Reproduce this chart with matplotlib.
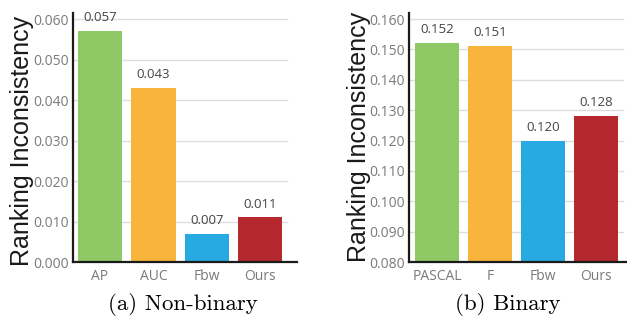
import matplotlib.pyplot as plt
from matplotlib.ticker import FormatStrFormatter

# non-binary and binary results
nb_methods = ["AP", "AUC", "Fbw", "Ours"]
nb_values = [0.057, 0.043, 0.007, 0.011]
nb_ticks = [0.000, 0.010, 0.020, 0.030, 0.040, 0.050, 0.060]

b_methods = ["PASCAL", "F", "Fbw", "Ours"]
b_values = [0.152, 0.151, 0.120, 0.128]
b_ticks = [0.080, 0.090, 0.100, 0.110, 0.120, 0.130, 0.140, 0.150, 0.160]

bar_colors = ["#8fc965", "#f9b53b", "#27aae1", "#b5282e"]

fig = plt.figure(figsize=(6.27, 3.2), dpi=100)

ax1 = fig.add_axes([73 / 627, 58 / 320, 224 / 627, 249 / 320])
ax2 = fig.add_axes([409 / 627, 58 / 320, 218 / 627, 249 / 320])


def draw_panel(ax, methods, values, ticks, xlim, ylim, grid_end):
    x = range(len(methods))
    ax.bar(x, [v - ylim[0] for v in values], bottom=ylim[0], width=0.83,
           color=bar_colors, zorder=2)
    for xi, v in zip(x, values):
        ax.annotate(f"{v:.3f}", (xi, v), xytext=(0, 5), textcoords="offset points",
                    ha="center", va="bottom", fontsize=9.5, color="#444444",
                    family="Open Sans")
    for t in ticks[1:]:
        ax.axhline(t, xmin=0, xmax=grid_end, color="#dddddd", lw=1, zorder=1)
    ax.set_xlim(*xlim)
    ax.set_ylim(*ylim)
    ax.set_yticks(ticks)
    ax.yaxis.set_major_formatter(FormatStrFormatter("%.3f"))
    ax.set_xticks(list(x))
    ax.set_xticklabels(methods)
    ax.tick_params(axis="both", length=0, labelsize=10, labelcolor="#7a7a7a")
    ax.tick_params(axis="y", pad=3)
    ax.tick_params(axis="x", pad=5)
    for lab in ax.get_xticklabels() + ax.get_yticklabels():
        lab.set_family("Open Sans")
    for side in ["top", "right"]:
        ax.spines[side].set_visible(False)
    for side in ["left", "bottom"]:
        ax.spines[side].set_linewidth(1.6)
        ax.spines[side].set_color("#1a1a1a")
        ax.spines[side].set_zorder(3)


draw_panel(ax1, nb_methods, nb_values, nb_ticks, (-0.506, 3.69), (0.0, 0.0615), 0.955)
draw_panel(ax2, b_methods, b_values, b_ticks, (-0.53, 3.585), (0.080, 0.162), 0.98)

fig.text(22.5 / 627, 1 - 141 / 320, "Ranking Inconsistency", rotation=90,
         ha="center", va="center", fontsize=18, color="#1a1a1a", family="Liberation Sans")
fig.text(359 / 627, 1 - 137 / 320, "Ranking Inconsistency", rotation=90,
         ha="center", va="center", fontsize=18, color="#1a1a1a", family="Liberation Sans")

fig.text(183 / 627, 1 - 305 / 320, "(a) Non-binary", ha="center", va="center",
         fontsize=16.5, family="cmr10")
fig.text(508 / 627, 1 - 305 / 320, "(b) Binary", ha="center", va="center",
         fontsize=16.5, family="cmr10")

fig.savefig("out.png", dpi=100)
